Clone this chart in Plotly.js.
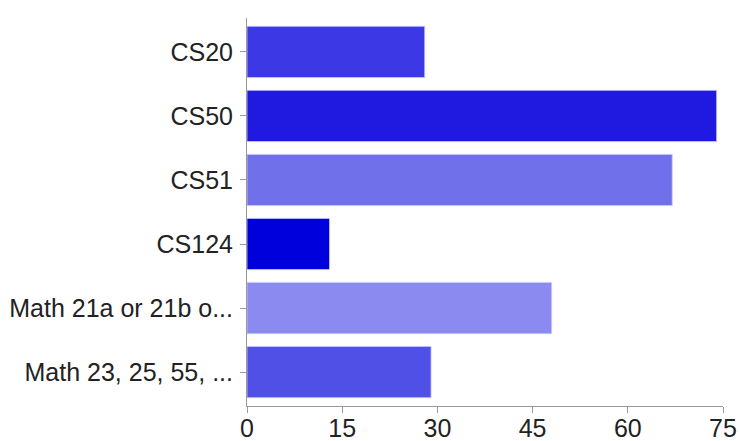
<!DOCTYPE html>
<html>
<head>
<meta charset="utf-8">
<script src="https://cdn.plot.ly/plotly-3.0.1.min.js"></script>
<style>html,body{margin:0;padding:0;background:#fff;}#chart{width:740px;height:441px;}</style>
</head>
<body>
<div id="chart"></div>
<script>
const categories = ["CS20", "CS50", "CS51", "CS124", "Math 21a or 21b o...", "Math 23, 25, 55, ..."];
const counts = [28, 74, 67, 13, 48, 29];
const barColors = ["#3c38e6", "#2019e0", "#7070ea", "#0000dc", "#8a8af0", "#5050e6"];
const xTicks = [0, 15, 30, 45, 60, 75];

const trace = {
  type: "bar",
  orientation: "h",
  y: categories,
  x: counts,
  width: 0.8,
  marker: { color: barColors, line: { color: "rgba(200,200,250,0.8)", width: 1 } },
  hoverinfo: "x+y"
};

const layout = {
  width: 740, height: 441,
  margin: { l: 247, r: 17, t: 18, b: 35, pad: 0 },
  paper_bgcolor: "#fff", plot_bgcolor: "#fff",
  font: { family: "Liberation Sans, Arial, sans-serif", size: 25, color: "#222" },
  showlegend: false,
  bargap: 0.2,
  xaxis: {
    range: [0, 75],
    tickvals: xTicks,
    ticktext: xTicks.map(String),
    showgrid: false, zeroline: false,
    showline: true, linecolor: "#999", linewidth: 1,
    ticks: "outside", ticklen: 6, tickcolor: "#999",
    ticklabelstandoff: -6,
    tickfont: { size: 25, color: "#222" }
  },
  yaxis: {
    type: "category",
    categoryorder: "array",
    categoryarray: categories,
    range: [5.53, -0.53],
    showgrid: false, zeroline: false,
    showline: true, linecolor: "#999", linewidth: 1,
    ticks: "outside", ticklen: 6, tickcolor: "#999",
    ticklabelstandoff: 2,
    tickfont: { size: 25, color: "#222" }
  }
};

Plotly.newPlot("chart", [trace], layout, { staticPlot: true, displayModeBar: false });
</script>
</body>
</html>
